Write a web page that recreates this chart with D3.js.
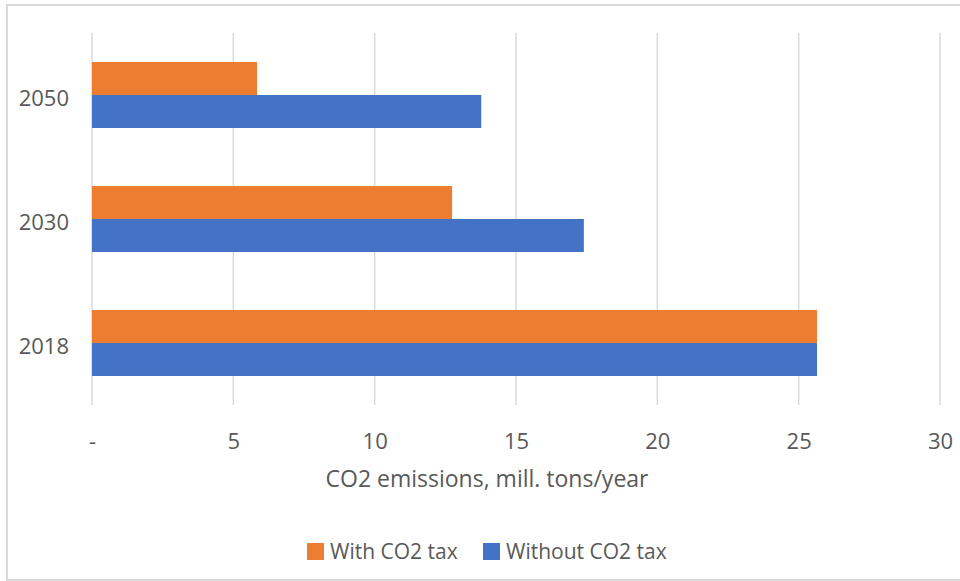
<!DOCTYPE html>
<html>
<head>
<meta charset="utf-8">
<script src="https://cdn.jsdelivr.net/npm/d3@7"></script>
<style>
  html, body { margin: 0; padding: 0; background: #fff; }
  svg { display: block; font-family: "Open Sans", "Noto Sans", sans-serif; }
</style>
</head>
<body>
<svg id="chart" width="960" height="581"></svg>
<script>
// Emissions by year, with and without a CO2 tax (mill. tons/year)
const years = ["2018", "2030", "2050"];
const withTax = [25.65, 12.74, 5.84];
const withoutTax = [25.65, 17.40, 13.77];
const xTicks = [0, 5, 10, 15, 20, 25, 30];
const seriesNames = ["With CO2 tax", "Without CO2 tax"];
const seriesColors = ["#ED7D31", "#4472C4"];
const axisTitle = "CO2 emissions, mill. tons/year";

const svg = d3.select("#chart");
const W = 960, H = 581;
const plot = { left: 92, right: 940, top: 33, bottom: 405 };
const textColor = "#595959";
const gridColor = "#d9d9d9";

// Chart frame (open at the right edge)
svg.append("path")
  .attr("d", `M${W},5 H7 V580 H${W}`)
  .attr("fill", "none")
  .attr("stroke", gridColor)
  .attr("stroke-width", 2);

const x = d3.scaleLinear().domain([0, 30]).range([plot.left, plot.right]);

// Categories run bottom-to-top: 2018 at the bottom
const y = d3.scaleBand()
  .domain(years.slice().reverse())
  .range([plot.top, plot.bottom])
  .paddingInner(0.468)
  .paddingOuter(0.234);

// Inside each band the orange bar sits above the blue bar
const sub = d3.scaleBand().domain([0, 1]).range([0, y.bandwidth()]);

// Vertical gridlines
svg.append("g")
  .selectAll("line")
  .data(xTicks)
  .join("line")
  .attr("x1", d => x(d)).attr("x2", d => x(d))
  .attr("y1", plot.top).attr("y2", plot.bottom)
  .attr("stroke", gridColor)
  .attr("stroke-width", 1.5);

// Bars
const series = [withTax, withoutTax];
series.forEach((vals, si) => {
  svg.append("g")
    .attr("fill", seriesColors[si])
    .selectAll("rect")
    .data(years.map((yr, i) => ({ yr, v: vals[i] })))
    .join("rect")
    .attr("x", x(0))
    .attr("y", d => y(d.yr) + sub(si))
    .attr("width", d => x(d.v) - x(0))
    .attr("height", sub.bandwidth());
});

// X axis labels
const xAxis = d3.axisBottom(x)
  .tickValues(xTicks)
  .tickSize(0)
  .tickPadding(0)
  .tickFormat(d => d === 0 ? "-" : d3.format("d")(d));
const gx = svg.append("g")
  .attr("transform", `translate(0,${plot.bottom})`)
  .call(xAxis);
gx.select(".domain").remove();
gx.selectAll("text")
  .attr("y", 44)
  .attr("dy", null)
  .attr("fill", textColor)
  .style("font-size", "22px")
  .style("font-family", "'Open Sans', sans-serif");

// Y axis labels
const yAxis = d3.axisLeft(y).tickSize(0).tickPadding(0);
const gy = svg.append("g")
  .attr("transform", `translate(${plot.left},0)`)
  .call(yAxis);
gy.select(".domain").remove();
gy.selectAll("text")
  .attr("x", -23)
  .attr("dy", "0.5em")
  .attr("fill", textColor)
  .style("font-size", "22px")
  .style("font-family", "'Open Sans', sans-serif");

// Axis title
svg.append("text")
  .attr("x", 487)
  .attr("y", 487)
  .attr("text-anchor", "middle")
  .attr("fill", textColor)
  .style("font-size", "23px")
  .text(axisTitle);

// Legend
const legendItems = [
  { name: seriesNames[0], color: seriesColors[0], x: 307 },
  { name: seriesNames[1], color: seriesColors[1], x: 483 }
];
const lg = svg.append("g");
legendItems.forEach(it => {
  lg.append("rect")
    .attr("x", it.x).attr("y", 543)
    .attr("width", 17).attr("height", 17)
    .attr("fill", it.color);
  lg.append("text")
    .attr("x", it.x + 23).attr("y", 559)
    .attr("fill", textColor)
    .style("font-size", "21px")
    .text(it.name);
});
</script>
</body>
</html>
